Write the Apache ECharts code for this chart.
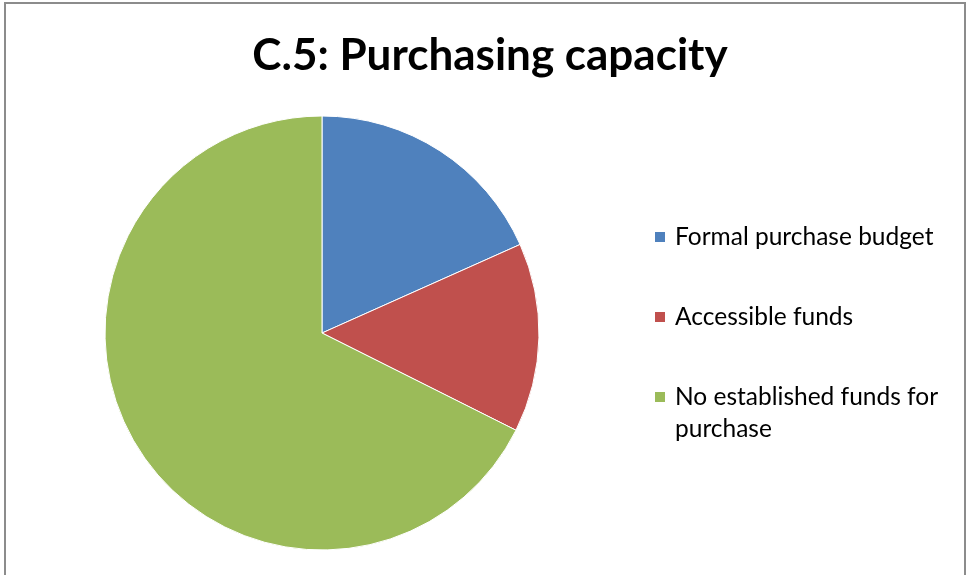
<!DOCTYPE html>
<html>
<head>
<meta charset="utf-8">
<script src="https://cdn.jsdelivr.net/npm/echarts@6/dist/echarts.min.js"></script>
<style>
    html,body{margin:0;padding:0;background:#fff;}
    #frame{
        position:absolute;left:4px;top:2px;width:962px;height:580px;
        box-sizing:border-box;border:2px solid #8c8c8c;border-bottom:none;
    }
    #purchasing{position:absolute;left:0;top:0;width:966px;height:575px;}
</style>
</head>
<body>
<div id="frame"></div>
<div id="purchasing"></div>
<script>
    // categories and counts
    var categories=['Formal purchase budget','Accessible funds','No established funds for purchase'];
    var counts=[13,10,48];
    var colors=['#4F81BD','#C0504D','#9BBB59'];

    var chart=echarts.init(document.getElementById('purchasing'));
    var font='Lato, "Open Sans", sans-serif';

    var legendText={
        fontFamily:font,fontSize:24.5,color:'#000',
        width:285,overflow:'break',lineHeight:32,
        padding:[0,0,0,4]
    };

    var option={
        animation:false,
        color:colors,
        title:{
            text:'C.5: Purchasing capacity',
            left:485,
            textAlign:'center',
            top:29,
            textStyle:{fontFamily:font,fontSize:44,fontWeight:'bold',color:'#000'}
        },
        legend:[{
            orient:'vertical',
            left:648,
            top:216,
            itemWidth:12,
            itemHeight:12,
            itemGap:48,
            icon:'rect',
            data:categories.slice(0,2),
            textStyle:legendText
        },{
            // wrapped label: an empty first line keeps the icon beside "No established..."
            orient:'vertical',
            left:648,
            top:344,
            itemWidth:12,
            itemHeight:12,
            icon:'rect',
            data:categories.slice(2),
            formatter:function(name){return '\n'+name;},
            textStyle:legendText
        }],
        series:[{
            type:'pie',
            center:[322,333],
            radius:217,
            startAngle:90,
            clockwise:true,
            label:{show:false},
            labelLine:{show:false},
            emphasis:{disabled:true},
            itemStyle:{borderColor:'#fff',borderWidth:1},
            data:categories.map(function(name,i){return {name:name,value:counts[i]};})
        }]
    };
    chart.setOption(option);
    window.addEventListener('resize',chart.resize);
</script>
</body>
</html>
